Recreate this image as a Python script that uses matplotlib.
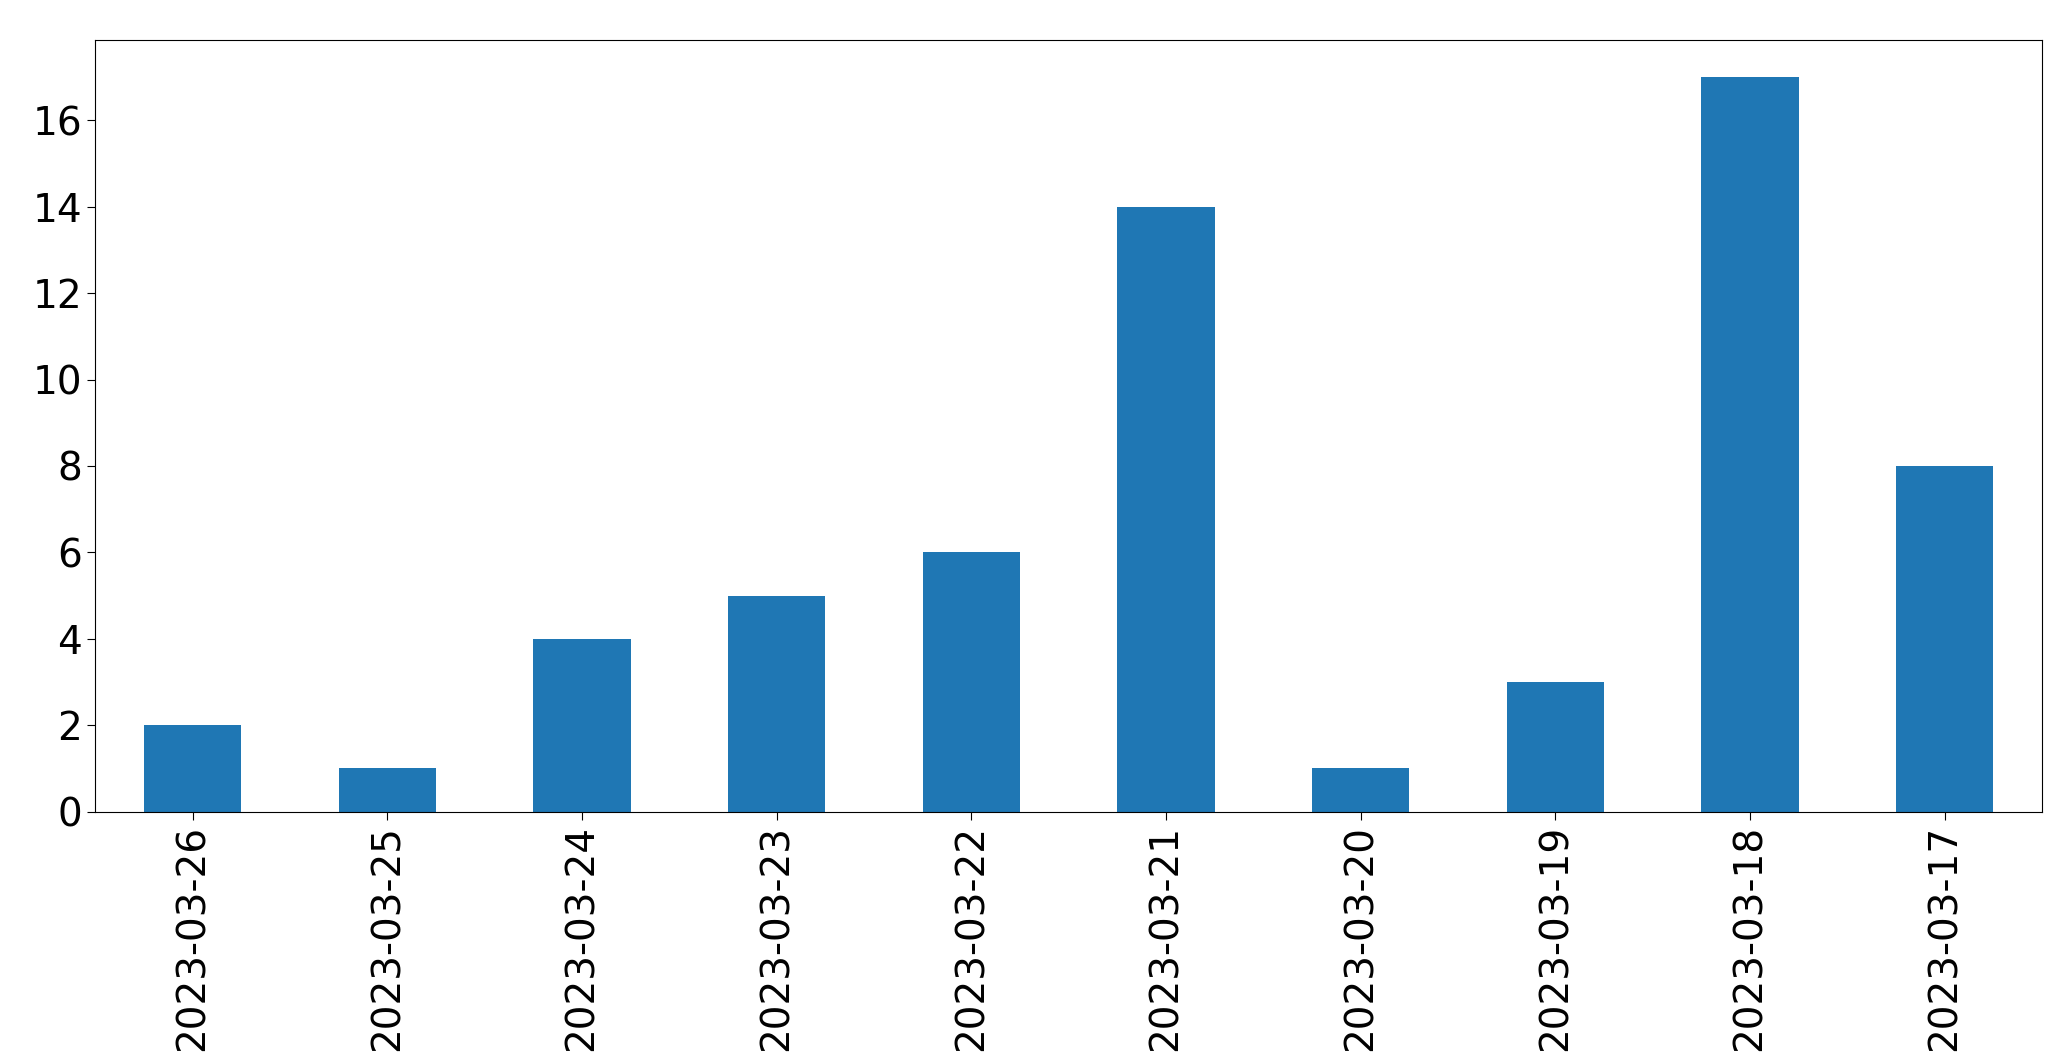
import matplotlib
matplotlib.use("Agg")
import matplotlib.pyplot as plt

dates = ["2023-03-26", "2023-03-25", "2023-03-24", "2023-03-23", "2023-03-22",
         "2023-03-21", "2023-03-20", "2023-03-19", "2023-03-18", "2023-03-17"]
counts = [2, 1, 4, 5, 6, 14, 1, 3, 17, 8]

fig, ax = plt.subplots(figsize=(20.71, 10.61), dpi=100)
fig.subplots_adjust(left=0.046, right=0.986, top=0.962, bottom=0.235)
x = range(len(dates))
ax.bar(x, counts, width=0.5, color="#1f77b4")
ax.set_xticks(list(x))
ax.set_xticklabels(dates, rotation=90)
ax.set_xlim(-0.5, len(dates) - 0.5)
ax.tick_params(labelsize=28, length=6)
fig.savefig("out.png")
